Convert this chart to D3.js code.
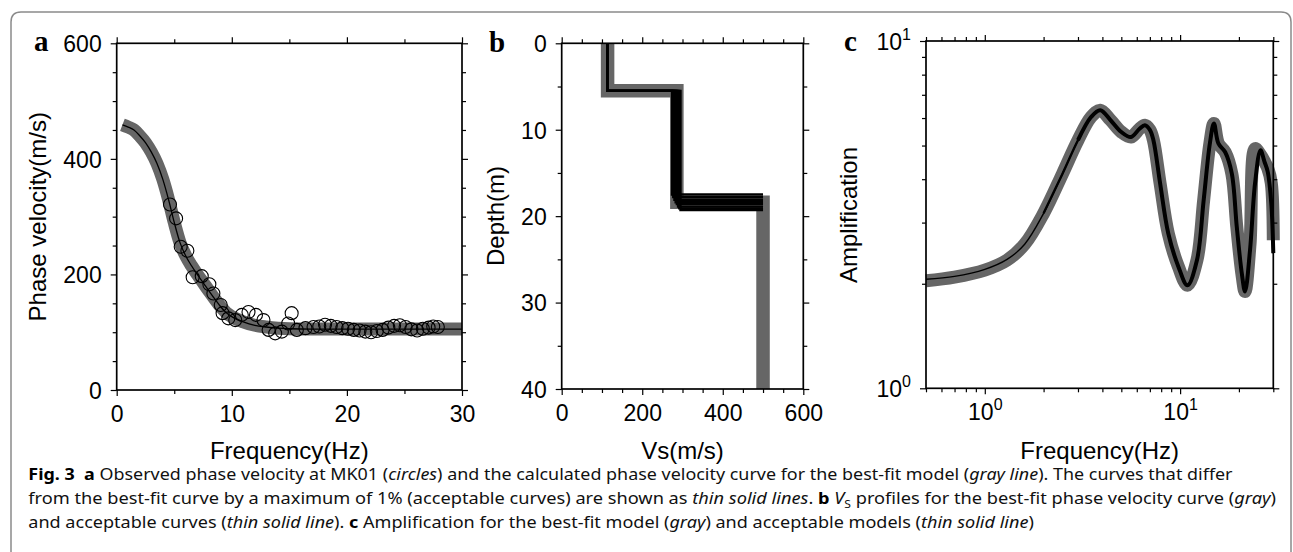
<!DOCTYPE html>
<html>
<head>
<meta charset="utf-8">
<script src="https://cdn.jsdelivr.net/npm/d3@7"></script>
<style>
body { margin: 0; background: #fff; }
svg { display: block; }
</style>
</head>
<body>
<svg id="fig" width="1293" height="552"></svg>
<script>
/*------------------- data: panel a ---------------------*/
const curveFreq = [0.5, 1, 1.5, 2, 2.5, 3, 3.5, 4, 4.5, 5, 5.5, 6, 6.5, 7, 7.5, 8, 8.5, 9, 9.5, 10, 11, 12, 13, 14, 15, 17, 20, 25, 30];
const curveVel = [459, 455, 450, 440, 428, 412, 392, 365, 330, 290, 255, 232, 215, 200, 186, 172, 158, 145, 134, 127, 118, 112, 109, 107, 106, 105.5, 105.5, 105.5, 105.5];

const obsFreq = [4.63, 5.16, 5.56, 6.14, 6.6, 7.39, 8.05, 8.4, 9.04, 9.2, 9.7, 10.3, 10.87, 11.45, 12.1, 12.75, 13.2, 13.77, 14.35, 14.9, 15.2, 15.65, 16.4, 17.1,
    17.6, 18.1, 18.6, 19.1, 19.6, 20.1, 20.6, 21.1, 21.6, 22.1, 22.6, 23.1, 23.6, 24.1, 24.6, 25.1, 25.6, 26.1, 26.6, 27.1, 27.5, 27.9];
const obsVel = [321, 297, 248, 241, 195, 197, 183, 167, 147, 133, 124, 121, 130, 135, 130, 121, 104, 98, 101, 115, 133, 104, 107, 109,
    110, 113, 111, 109, 107, 106, 104, 103, 101, 100, 102, 104, 108, 111, 112, 109, 105, 103, 106, 108, 110, 109];

/*------------------- data: panel b ---------------------*/
const bestVs = [114, 286, 500];          // layer velocities
const bestDepth = [5.5, 18.4];           // layer boundaries
const accVs1 = [113];
const accDepth1 = [5.5];
const accVs2 = [274, 277, 280, 283, 286, 289, 292, 295];
const accDepth2 = [17.5, 17.8, 18.1, 18.4, 18.6, 18.9, 19.1, 19.3];
const accVs3 = [500];

/*------------------- data: panel c ---------------------*/
const ampFreq = [0.5, 0.7, 1.0, 1.3, 1.6, 2.0, 2.5, 3.0, 3.5, 3.9, 4.4, 5.0, 5.6, 6.2, 6.6, 7.0, 7.3, 7.9, 8.7, 9.8, 10.9, 12.2, 13.2, 14.2, 14.9, 15.7, 17.0, 18.4, 19.5, 20.7, 21.5, 22.8, 24.2, 25.8, 27.0, 28.1, 29.3, 30];
const ampBest = [2.04, 2.09, 2.19, 2.34, 2.6, 3.19, 4.15, 5.18, 6.04, 6.32, 5.92, 5.47, 5.29, 5.59, 5.72, 5.55, 5.18, 3.89, 2.79, 2.24, 1.98, 2.34, 3.48, 5.07, 5.79, 5.07, 4.79, 4.15, 2.92, 2.14, 1.9, 2.6, 4.9, 4.7, 4.5, 4.3, 3.9, 2.67];
const ampAcc = [2.06, 2.1, 2.2, 2.35, 2.6, 3.19, 4.15, 5.18, 6.04, 6.32, 5.92, 5.47, 5.29, 5.59, 5.72, 5.55, 5.18, 3.89, 2.79, 2.24, 1.98, 2.34, 3.48, 5.07, 5.79, 5.07, 4.79, 4.15, 2.92, 2.14, 1.9, 2.5, 3.9, 4.85, 4.5, 4.2, 3.4, 2.45];

/*------------------- caption ---------------------------*/
const captionLines = [
    [["Fig. 3", "b"], ["  "], ["a", "b"], [" Observed phase velocity at MK01 ("], ["circles", "i"], [") and the calculated phase velocity curve for the best-fit model ("], ["gray line", "i"], ["). The curves that differ"]],
    [["from the best-fit curve by a maximum of 1% (acceptable curves) are shown as "], ["thin solid lines", "i"], [". "], ["b", "b"], [" "], ["V", "i"], ["S", "sub"], [" profiles for the best-fit phase velocity curve ("], ["gray", "i"], [")"]],
    [["and acceptable curves ("], ["thin solid line", "i"], ["). "], ["c", "b"], [" Amplification for the best-fit model ("], ["gray", "i"], [") and acceptable models ("], ["thin solid line", "i"], [")"]]
];
const captionEnds = [1233, 1277];

/*------------------- setup -----------------------------*/
const svg = d3.select("#fig");
const FONT = '"Liberation Sans", Arial, Helvetica, sans-serif';
const GRAY = "#666";

// outer rounded box (open at the bottom)
svg.append("path")
    .attr("d", "M11,552 V22 Q11,12 21,12 H1281 Q1291,12 1291,22 V552")
    .attr("fill", "none").attr("stroke", "#8a8a8a").attr("stroke-width", 1.5);

function ticks(g, axisFn, scale, vals, size, tr, fmt) {
    const a = axisFn(scale).tickValues(vals).tickSize(size).tickSizeOuter(0).tickFormat(fmt || (() => ""));
    const s = g.append("g").attr("transform", tr).call(a);
    s.select(".domain").remove();
    s.selectAll(".tick line").attr("stroke", "#000").attr("stroke-width", 1.2);
    s.selectAll(".tick text").attr("fill", "#000").attr("font-family", FONT).attr("font-size", 23);
    return s;
}

function frameAxes(g, x, y, xMaj, xMin, yMaj, yMin, xFmt, yFmt) {
    const [x0, x1] = x.range();
    const [y1, y0] = y.range();
    const bx = ticks(g, d3.axisBottom, x, xMaj, 6, `translate(0,${y1})`, xFmt);
    bx.selectAll("text").attr("y", 32).attr("dy", 0);
    ticks(g, d3.axisBottom, x, xMin, 4, `translate(0,${y1})`);
    ticks(g, d3.axisTop, x, xMaj, 6, `translate(0,${y0})`);
    ticks(g, d3.axisTop, x, xMin, 4, `translate(0,${y0})`);
    const ly = ticks(g, d3.axisLeft, y, yMaj, 6, `translate(${x0},0)`, yFmt);
    ly.selectAll("text").attr("x", -15).attr("dy", "0.36em");
    ticks(g, d3.axisLeft, y, yMin, 4, `translate(${x0},0)`);
    ticks(g, d3.axisRight, y, yMaj, 6, `translate(${x1},0)`);
    ticks(g, d3.axisRight, y, yMin, 4, `translate(${x1},0)`);
    g.append("rect")
        .attr("x", x0).attr("y", y0).attr("width", x1 - x0).attr("height", y1 - y0)
        .attr("fill", "none").attr("stroke", "#000").attr("stroke-width", 1.7);
    return { bx, ly };
}

function panelLetter(t, x, y) {
    svg.append("text").attr("x", x).attr("y", y).text(t)
        .attr("font-family", '"Liberation Serif", "Times New Roman", serif')
        .attr("font-weight", "bold").attr("font-size", 29);
}

function xTitle(t, cx) {
    svg.append("text").attr("x", cx).attr("y", 459).attr("text-anchor", "middle")
        .attr("font-family", FONT).attr("font-size", 24).text(t);
}

function yTitle(t, bx, cy) {
    svg.append("text").attr("transform", `translate(${bx},${cy}) rotate(-90)`)
        .attr("text-anchor", "middle").attr("font-family", FONT).attr("font-size", 24).text(t);
}

function pow10(sel) {
    sel.each(function (d) {
        const t = d3.select(this);
        t.text(null);
        t.append("tspan").text("10");
        t.append("tspan").attr("dy", -10).attr("font-size", 16).text(Math.round(Math.log10(d)));
    });
}

/*------------------- panel a ---------------------------*/
const xA = d3.scaleLinear().domain([0, 30]).range([116.7, 462]);
const yA = d3.scaleLinear().domain([0, 600]).range([390, 43.3]);
const gA = svg.append("g");

const lineA = d3.line().x(d => xA(d[0])).y(d => yA(d[1])).curve(d3.curveMonotoneX);
const curveA = curveFreq.map((f, i) => [f, curveVel[i]]);

gA.append("path").attr("d", lineA(curveA))
    .attr("fill", "none").attr("stroke", GRAY).attr("stroke-width", 13);
gA.append("path").attr("d", lineA(curveA))
    .attr("fill", "none").attr("stroke", "#000").attr("stroke-width", 1.3);

gA.selectAll("circle")
    .data(obsFreq.map((f, i) => [f, obsVel[i]]))
    .join("circle")
    .attr("cx", d => xA(d[0]))
    .attr("cy", d => yA(d[1]))
    .attr("r", 6.5)
    .attr("fill", "none").attr("stroke", "#000").attr("stroke-width", 1.1);

frameAxes(gA, xA, yA, [0, 10, 20, 30], [5, 15, 25],
    [0, 200, 400, 600], d3.range(50, 600, 50).filter(v => v % 200),
    d3.format("d"), d3.format("d"));
panelLetter("a", 34, 51);
xTitle("Frequency(Hz)", 289.3);
yTitle("Phase velocity(m/s)", 45.5, 216.7);

/*------------------- panel b ---------------------------*/
const xB = d3.scaleLinear().domain([0, 600]).range([561.7, 803.3]);
const yB = d3.scaleLinear().domain([0, 40]).range([43.3, 389]);
const gB = svg.append("g");

const lineB = d3.line().x(d => xB(d[0])).y(d => yB(d[1]));
const bestProfile = [
    [bestVs[0], 0], [bestVs[0], bestDepth[0]],
    [bestVs[1], bestDepth[0]], [bestVs[1], bestDepth[1]],
    [bestVs[2], bestDepth[1]], [bestVs[2], 40]
];
gB.append("path").attr("d", lineB(bestProfile))
    .attr("fill", "none").attr("stroke", GRAY).attr("stroke-width", 13.5)
    .attr("stroke-linejoin", "miter");

accVs2.forEach((v2, i) => {
    const prof = [
        [accVs1[0], 0], [accVs1[0], accDepth1[0]],
        [v2, accDepth1[0]], [v2, accDepth2[i]],
        [accVs3[0], accDepth2[i]]
    ];
    gB.append("path").attr("d", lineB(prof))
        .attr("fill", "none").attr("stroke", "#000").attr("stroke-width", 2.4);
});
// the first-layer part is shared by all profiles: keep it thin
gB.append("path")
    .attr("d", lineB([[accVs1[0], 0], [accVs1[0], accDepth1[0]], [d3.min(accVs2), accDepth1[0]]]))
    .attr("fill", "none").attr("stroke", "#000").attr("stroke-width", 1.3);

// depth axis: a flipped copy of the scale so the shared helper can be used
const yBr = d3.scaleLinear().domain([0, 40]).range([389, 43.3]);
frameAxes(gB, xB, yBr, [0, 200, 400, 600], d3.range(50, 600, 50).filter(v => v % 200),
    [0, 10, 20, 30, 40], [5, 15, 25, 35],
    d3.format("d"), d => d3.format("d")(40 - d));
panelLetter("b", 489, 52);
xTitle("Vs(m/s)", 682.5);
yTitle("Depth(m)", 504, 216);

/*------------------- panel c ---------------------------*/
const xC = d3.scaleLog().domain([0.5, 30]).range([926, 1273.3]);
const yC = d3.scaleLog().domain([1, 10]).range([388.3, 41]);
const gC = svg.append("g");

const lineC = d3.line().x(d => xC(d[0])).y(d => yC(d[1])).curve(d3.curveCatmullRom.alpha(0.5));
const bestC = ampFreq.map((f, i) => [f, ampBest[i]]);
const accC = ampFreq.map((f, i) => [f, ampAcc[i]]);

gC.append("path").attr("d", lineC(bestC))
    .attr("fill", "none").attr("stroke", GRAY).attr("stroke-width", 13)
    .attr("stroke-linejoin", "miter");
gC.append("path").attr("d", lineC(accC))
    .attr("fill", "none").attr("stroke", "#000").attr("stroke-width", 1.4);
gC.append("path").attr("d", lineC(accC.filter(d => d[0] >= 2.0)))
    .attr("fill", "none").attr("stroke", "#000").attr("stroke-width", 2.4);
gC.append("path").attr("d", lineC(accC.filter(d => d[0] >= 3.0)))
    .attr("fill", "none").attr("stroke", "#000").attr("stroke-width", 4);

const axC = frameAxes(gC, xC, yC, [1, 10], [0.5, 0.6, 0.7, 0.8, 0.9, 2, 3, 4, 5, 6, 7, 8, 9, 20, 30],
    [1, 10], [2, 3, 4, 5, 6, 7, 8, 9], d => d, d => d);
pow10(axC.bx.selectAll("text"));
pow10(axC.ly.selectAll("text"));
panelLetter("c", 844, 51);
xTitle("Frequency(Hz)", 1099.7);
yTitle("Amplification", 857, 215);

/*------------------- caption ---------------------------*/
const capBase = [480, 504, 528];
const capX = 28.3;
const capTexts = captionLines.map((segs, li) => {
    const t = svg.append("text")
        .attr("transform", `translate(${capX},${capBase[li]})`)
        .attr("xml:space", "preserve").style("white-space", "pre")
        .attr("font-family", '"Noto Sans", "Open Sans", sans-serif')
        .attr("font-size", 16.5).attr("fill", "#111");
    let prevSub = false;
    segs.forEach(([s, st]) => {
        const sp = t.append("tspan").text(s);
        if (st === "b") sp.attr("font-weight", "bold").attr("fill", "#000");
        if (st === "i") sp.attr("font-style", "italic");
        if (st === "sub") sp.attr("font-size", 11).attr("dy", 4);
        else if (prevSub) sp.attr("dy", -4);
        prevSub = st === "sub";
    });
    return t;
});
// fit the two full lines to their measured right ends; the last line uses their mean squeeze
const ks = captionEnds.map((e, i) => (e - capX) / capTexts[i].node().getComputedTextLength());
const kLast = d3.mean(ks);
capTexts.forEach((t, i) => {
    const k = i < ks.length ? ks[i] : kLast;
    t.attr("transform", `translate(${capX},${capBase[i]}) scale(${k},1)`);
});
</script>
</body>
</html>
